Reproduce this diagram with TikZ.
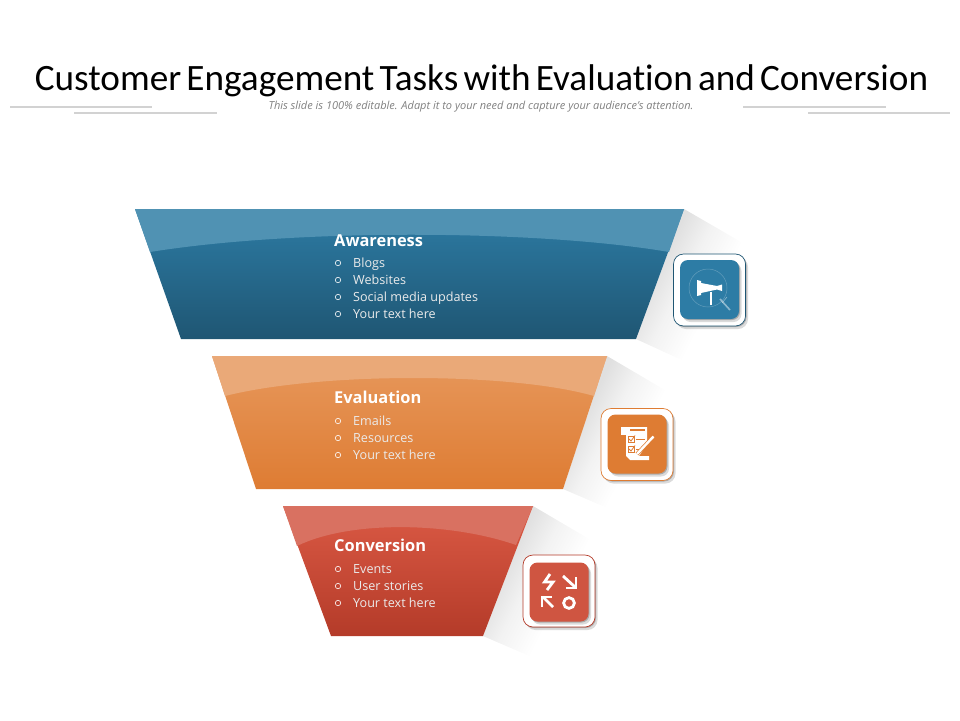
\documentclass[tikz,border=0pt]{standalone}
\usepackage{fontspec}
\setmainfont{Open Sans}
\newfontfamily\titlefont[Ligatures=NoCommon,WordSpace=0.62]{Carlito}
\usetikzlibrary{shadows}
\definecolor{bluetop}{HTML}{2D7CA5}
\definecolor{bluelow}{HTML}{1F5673}
\definecolor{blueband}{HTML}{5092B3}
\definecolor{orangetop}{HTML}{E7985C}
\definecolor{orangelow}{HTML}{DE7C33}
\definecolor{orangeband}{HTML}{EAA978}
\definecolor{redtop}{HTML}{DB5A45}
\definecolor{redlow}{HTML}{B43B29}
\definecolor{redband}{HTML}{D97161}
\definecolor{redtile}{HTML}{CF5541}
\definecolor{rulegray}{HTML}{D2D2D2}
\pgfdeclarehorizontalshading{wedgefade}{100bp}{color(0bp)=(black!13); color(35bp)=(black!12); color(46bp)=(black!5); color(60bp)=(white); color(100bp)=(white)}
\tikzset{
    softshadow/.style={general shadow={fill=black,opacity=.22,shadow xshift=1pt,shadow yshift=-1pt},general shadow={fill=black,opacity=.14,shadow xshift=2.5pt,shadow yshift=-3pt}},
    headlabel/.style={anchor=base west,inner sep=0pt,text=white,font=\fontsize{16.4}{18}\selectfont\bfseries},
    itemlabel/.style={anchor=base west,inner sep=0pt,text=white!92!black,font=\fontsize{12.6}{15}\selectfont},
    dotlabel/.style={anchor=center,circle,draw=white,line width=.6pt,inner sep=0pt,minimum size=5.4pt},
    tileouter/.style={draw,fill=white,line width=.7pt,rounded corners=10pt,minimum size=72pt,inner sep=0pt,softshadow},
    tileinner/.style={rounded corners=8pt,minimum size=59pt,inner sep=0pt,softshadow},
    wedge/.style={shading=wedgefade,shading angle=-27},
    iconline/.style={draw=white,line width=2.8pt,line cap=butt,line join=miter}
}
\begin{document}
\begin{tikzpicture}[x=1pt,y=-1pt]
    \useasboundingbox (0,0) rectangle (960,720);
    \node[inner sep=0pt,font=\titlefont\fontsize{37.2}{42}\selectfont,text=black] (title) at (481.5,80.5) {Customer Engagement Tasks with Evaluation and Conversion};
    \node[inner sep=0pt,font=\fontsize{11}{13}\selectfont\itshape,text=black!50] (subtitle) at (481,106.5) {This slide is 100\% editable. Adapt it to your need and capture your audience's attention.};
    \draw[rulegray,line width=1.2pt] (10,107) -- (152,107) (74,113) -- (217,113) (743,107) -- (886,107) (808,113) -- (950,113);

    \shade[wedge] (684,209) -- (748,246) -- (686,362) -- (636,339) -- cycle;
    \shade[wedge] (607,356) -- (670,393) -- (612,510) -- (563,489) -- cycle;
    \shade[wedge] (533,506) -- (596,543) -- (534,658) -- (483,636) -- cycle;

    \shade[top color=bluetop,bottom color=bluelow] (135,209) -- (684,209) -- (636,339) -- (181,339) -- cycle;
    \fill[blueband] (135,209) -- (684,209) -- (669,252) .. controls (540,230) and (300,228) .. (150,252) -- cycle;
    \shade[top color=orangetop,bottom color=orangelow] (212,356) -- (607,356) -- (563,489) -- (256,489) -- cycle;
    \fill[orangeband] (212,356) -- (607,356) -- (594,396) .. controls (510,372) and (320,372) .. (225,396) -- cycle;
    \shade[top color=redtop,bottom color=redlow] (283,506) -- (533,506) -- (483,636) -- (331,636) -- cycle;
    \fill[redband] (283,506) -- (533,506) -- (516,545) .. controls (450,522) and (350,520) .. (297,546) -- cycle;

    \node[headlabel] (awarehead) at (334,246) {Awareness};
    \foreach \name/\ypos/\itemtext in {blogs/267/Blogs,sites/284/Websites,social/301/Social media updates,awaretext/318/Your text here}{
        \node[dotlabel] (\name dot) at (338,\ypos-4) {};
        \node[itemlabel] (\name) at (353,\ypos) {\itemtext};
    }
    \node[headlabel] (evalhead) at (334,403) {Evaluation};
    \foreach \name/\ypos/\itemtext in {emails/425/Emails,resources/442/Resources,evaltext/459/Your text here}{
        \node[dotlabel] (\name dot) at (338,\ypos-4) {};
        \node[itemlabel] (\name) at (353,\ypos) {\itemtext};
    }
    \node[headlabel] (convhead) at (334,551) {Conversion};
    \foreach \name/\ypos/\itemtext in {events/573/Events,stories/590/User stories,convtext/607/Your text here}{
        \node[dotlabel] (\name dot) at (338,\ypos-4) {};
        \node[itemlabel] (\name) at (353,\ypos) {\itemtext};
    }

    \node[tileouter,draw=bluelow] (awarebox) at (709.5,290) {};
    \node[tileinner,fill=bluetop] (awaretile) at (709.5,289.5) {};
    \node[tileouter,draw=orangelow] (evalbox) at (637,444.5) {};
    \node[tileinner,fill=orangelow] (evaltile) at (637,444) {};
    \node[tileouter,draw=redlow] (convbox) at (559,591) {};
    \node[tileinner,fill=redtile] (convtile) at (559,592) {};

    % megaphone
    \draw[white,opacity=.25,line width=.5pt] (708,288) circle (19);
    \fill[white] (697,280) -- (701,281) -- (701,283) -- (717,286) -- (722,284.5) -- (722,291) -- (717,289.5) -- (701,293) -- (701,295) -- (697,296) -- cycle;
    \fill[white] (709.5,292) rectangle (712,305);
    \draw[white,opacity=.45,line width=1.6pt] (720,299) -- (730,310);
    \draw[white,opacity=.45,line width=.6pt] (727,297) -- (722,303);

    % checklist
    \fill[white] (621,427) rectangle (626,435);
    \fill[white] (626,427) -- (647,427) -- (647,444) -- (639,456) -- (649,456) -- (649,460) -- (630,460) -- (626,456) -- cycle;
    \fill[orangelow] (630,429) rectangle (645,431);
    \draw[orangelow,line width=.7pt] (628,436) rectangle (634,442) (628,446) rectangle (634,452);
    \draw[orangelow,line width=.8pt] (629,439) -- (631,441) -- (635,435.5) (629,449) -- (631,451) -- (635,445.5);
    \draw[orangelow,line width=.7pt] (636,439) -- (645,439) (636,449) -- (641,449);
    \draw[orangelow,line width=3.8pt] (653,437) -- (637,454);
    \draw[white,line width=2.4pt] (653.5,436.5) -- (637,454);

    % conversion arrows
    \draw[iconline] (550,574) -- (544.5,582) -- (553,582) -- (547,590);
    \draw[iconline] (563,576) -- (575,587);
    \draw[iconline] (576,577) -- (576,588) -- (566,588);
    \draw[iconline] (553,607) -- (543,597);
    \draw[iconline] (542,607) -- (542,597) -- (552,597);
    \draw[white,line width=2.8pt] (569,603) circle (5.4);
\end{tikzpicture}
\end{document}
